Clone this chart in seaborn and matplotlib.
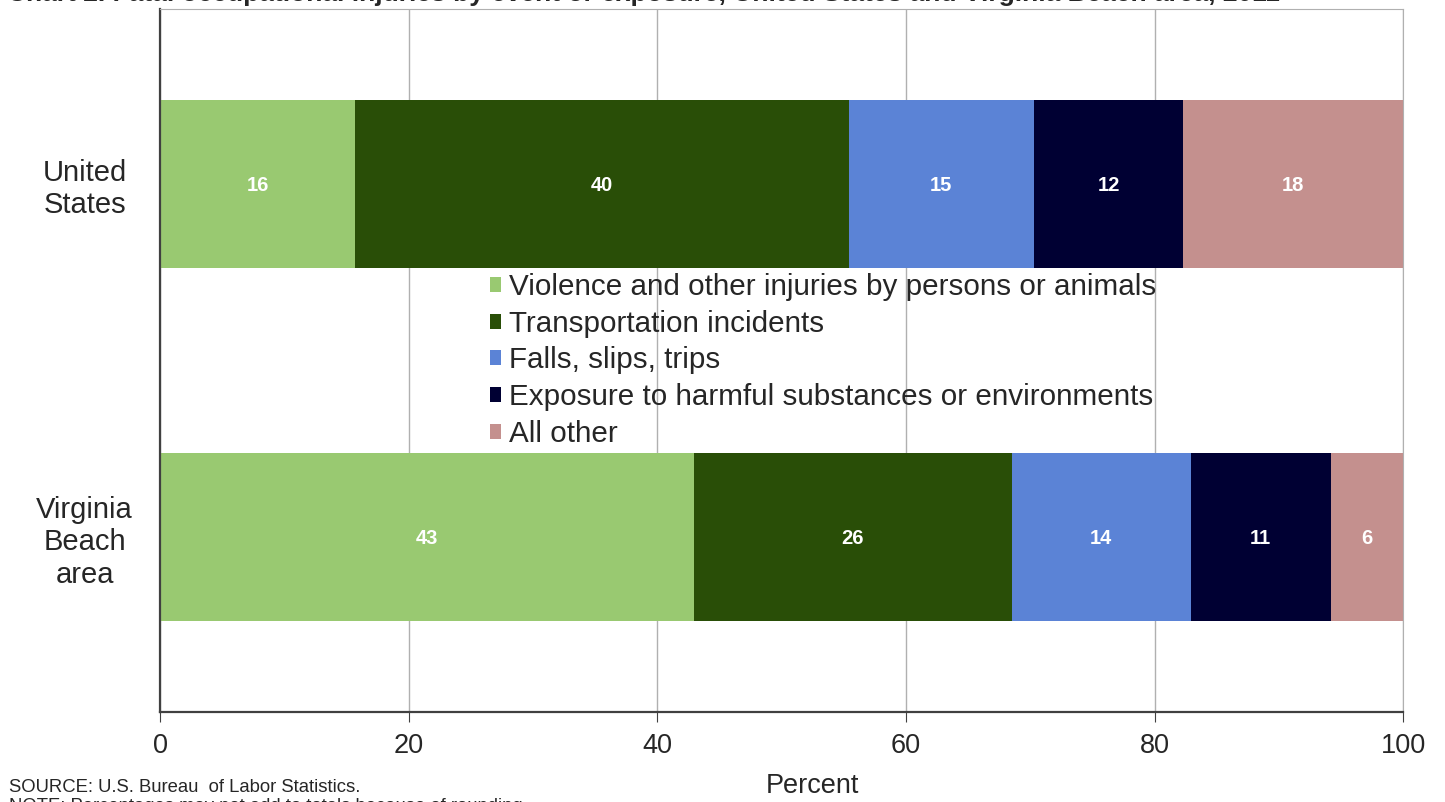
import numpy as np
import pandas as pd
import matplotlib.pyplot as plt
import seaborn as sns

# Data (percent of fatal injuries)
areas = ['United\nStates', 'Virginia\nBeach\narea']
events = ['Violence and other injuries by persons or animals',
          'Transportation incidents',
          'Falls, slips, trips',
          'Exposure to harmful substances or environments',
          'All other']
violence = [15.7, 42.9]
transport = [39.7, 25.6]
falls = [14.9, 14.4]
exposure = [12.0, 11.3]
other = [17.7, 5.8]
colors = ['#99c971', '#294e07', '#5b83d6', '#000033', '#c4908e']

df = pd.DataFrame({'area': areas, events[0]: violence, events[1]: transport,
                   events[2]: falls, events[3]: exposure, events[4]: other})
cum = df[events].cumsum(axis=1)
cum = cum.div(cum[events[-1]], axis=0) * 100  # stretch each bar to 100

sns.set_style('white')
plt.rcParams['font.family'] = ['Liberation Sans', 'DejaVu Sans']

fig, ax = plt.subplots(figsize=(14.45, 8.02), dpi=100)
fig.subplots_adjust(left=0.111, right=0.971, top=0.989, bottom=0.112)

# stacked bars: draw cumulative totals from the last segment backwards
for ev, col in reversed(list(zip(events, colors))):
    sns.barplot(x=cum[ev], y=df['area'], color=col, width=0.475,
                orient='h', ax=ax, label=ev, saturation=1, edgecolor='none')

# value labels in the middle of each segment
for i in range(len(areas)):
    left = 0
    for ev in events:
        right = cum.loc[i, ev]
        ax.text((left + right) / 2, i + 0.005, f'{df.loc[i, ev]:.0f}', color='white',
                ha='center', va='center', fontsize=14.5, fontweight='bold')
        left = right

ax.set_xlim(0, 100)
ax.set_ylim(1.496, -0.496)
ax.set_xticks([0, 20, 40, 60, 80, 100])
ax.xaxis.grid(True, color='#b0b0b0', linewidth=1)
ax.set_axisbelow(True)
ax.tick_params(axis='x', labelsize=19.5, bottom=True, length=7, color='#404040', pad=8)
ax.tick_params(axis='y', labelsize=21, left=False, pad=51)
for lbl in ax.get_yticklabels():
    lbl.set_ha('center')
    lbl.set_multialignment('center')
    lbl.set_linespacing(1.2)
ax.set_ylabel('')
ax.set_xlabel('Percent', fontsize=19.5)
ax.xaxis.set_label_coords(0.525, -0.087)

for side in ['top', 'right']:
    ax.spines[side].set_color('#b0b0b0')
for side in ['left', 'bottom']:
    ax.spines[side].set_color('#404040')
    ax.spines[side].set_linewidth(1.6)

handles, labels = ax.get_legend_handles_labels()
order = [labels.index(e) for e in events]
leg = ax.legend([handles[k] for k in order], [labels[k] for k in order],
                loc='center left', bbox_to_anchor=(0.253, 0.5), frameon=False,
                fontsize=21.3, handlelength=0.4, handleheight=0.4,
                handletextpad=0.25, labelspacing=0.29, borderpad=0)

# title and note are cut off at the edges in the reference image
fig.text(0.005, 1.008, 'Chart 2. Fatal occupational injuries by event or exposure, '
         'United States and Virginia Beach area, 2011',
         fontsize=19, fontweight='bold', va='center', ha='left')
fig.text(0.006, 0.018, 'SOURCE: U.S. Bureau  of Labor Statistics.', fontsize=13.3,
         va='center', ha='left')
fig.text(0.006, -0.006, 'NOTE: Percentages may not add to totals because of rounding.',
         fontsize=13.3, va='center', ha='left')

fig.savefig('out.png', dpi=100)
